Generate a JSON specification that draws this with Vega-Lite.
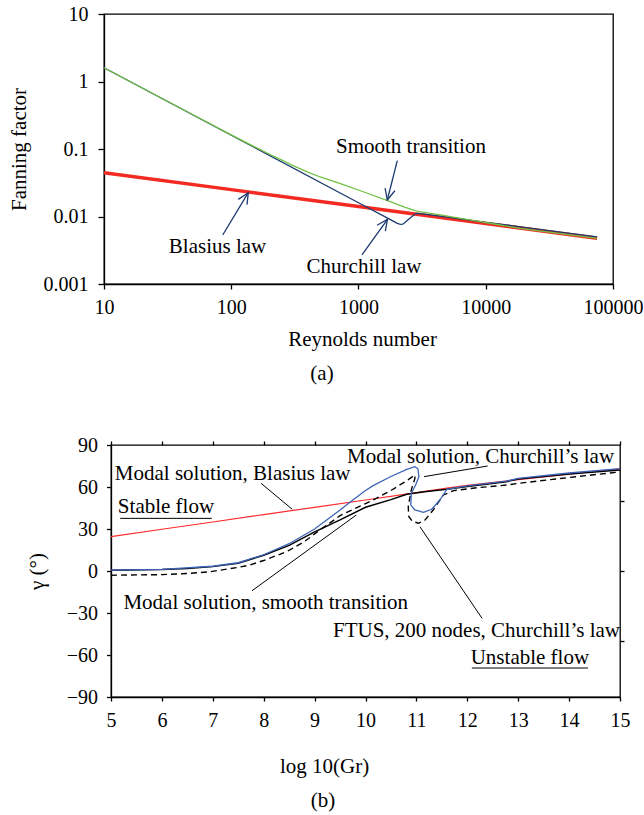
{
  "$schema": "https://vega.github.io/schema/vega-lite/v6.json",
  "autosize": {"type": "none"},
  "padding": {"left": 104, "top": 14, "right": 540, "bottom": 801},
  "background": "white",
  "config": {
    "view": {"stroke": "black", "strokeWidth": 1.3},
    "axis": {"domainColor": "black", "tickColor": "black", "labelColor": "black", "titleColor": "black", "labelFont": "Liberation Serif", "titleFont": "Liberation Serif", "labelFontSize": 20, "titleFontSize": 21, "titleFontWeight": "normal", "grid": false, "domainWidth": 1.3, "tickWidth": 1.3},
    "title": {"font": "Liberation Serif", "fontSize": 21, "fontWeight": "normal", "color": "black"},
    "text": {"font": "Liberation Serif", "fontSize": 21, "color": "black"}
  },
  "datasets": {
    "fan": [
      {"law": "Blasius", "Re": 10, "f": 0.0444},
      {"law": "Blasius", "Re": 100, "f": 0.025},
      {"law": "Blasius", "Re": 1000, "f": 0.01405},
      {"law": "Blasius", "Re": 10000, "f": 0.0079},
      {"law": "Blasius", "Re": 75000, "f": 0.00477},
      {"law": "Smooth", "Re": 10, "f": 1.6},
      {"law": "Smooth", "Re": 20, "f": 0.8},
      {"law": "Smooth", "Re": 50, "f": 0.322},
      {"law": "Smooth", "Re": 100, "f": 0.1616},
      {"law": "Smooth", "Re": 150, "f": 0.1095},
      {"law": "Smooth", "Re": 200, "f": 0.0835},
      {"law": "Smooth", "Re": 250, "f": 0.0683},
      {"law": "Smooth", "Re": 300, "f": 0.0578},
      {"law": "Smooth", "Re": 400, "f": 0.0455},
      {"law": "Smooth", "Re": 500, "f": 0.0385},
      {"law": "Smooth", "Re": 760, "f": 0.0296},
      {"law": "Smooth", "Re": 1160, "f": 0.0223},
      {"law": "Smooth", "Re": 1714, "f": 0.017},
      {"law": "Smooth", "Re": 2300, "f": 0.0138},
      {"law": "Smooth", "Re": 2864, "f": 0.01205},
      {"law": "Smooth", "Re": 4500, "f": 0.01046},
      {"law": "Smooth", "Re": 7080, "f": 0.00907},
      {"law": "Smooth", "Re": 12000, "f": 0.00768},
      {"law": "Smooth", "Re": 18600, "f": 0.00668},
      {"law": "Smooth", "Re": 40000, "f": 0.00554},
      {"law": "Smooth", "Re": 75000, "f": 0.00475},
      {"law": "Churchill", "Re": 10, "f": 1.6},
      {"law": "Churchill", "Re": 100, "f": 0.16},
      {"law": "Churchill", "Re": 1000, "f": 0.016},
      {"law": "Churchill", "Re": 1767, "f": 0.00905},
      {"law": "Churchill", "Re": 2000, "f": 0.008},
      {"law": "Churchill", "Re": 2100, "f": 0.0077},
      {"law": "Churchill", "Re": 2184, "f": 0.00765},
      {"law": "Churchill", "Re": 2260, "f": 0.0078},
      {"law": "Churchill", "Re": 2480, "f": 0.0091},
      {"law": "Churchill", "Re": 2780, "f": 0.0109},
      {"law": "Churchill", "Re": 2900, "f": 0.0111},
      {"law": "Churchill", "Re": 3200, "f": 0.0109},
      {"law": "Churchill", "Re": 5000, "f": 0.0098},
      {"law": "Churchill", "Re": 10000, "f": 0.0082},
      {"law": "Churchill", "Re": 20000, "f": 0.0069},
      {"law": "Churchill", "Re": 40000, "f": 0.0058},
      {"law": "Churchill", "Re": 75000, "f": 0.005}
    ],
    "arrows": [
      {"seg": "a1s", "i": 0, "Re": 2018, "f": 0.0671},
      {"seg": "a1s", "i": 1, "Re": 1684, "f": 0.01756},
      {"seg": "a1h", "i": 0, "Re": 1932, "f": 0.0241},
      {"seg": "a1h", "i": 1, "Re": 1684, "f": 0.01756},
      {"seg": "a1h", "i": 2, "Re": 1618, "f": 0.02626},
      {"seg": "a2s", "i": 0, "Re": 85.7, "f": 0.00532},
      {"seg": "a2s", "i": 1, "Re": 136.1, "f": 0.02252},
      {"seg": "a2h", "i": 0, "Re": 113.6, "f": 0.01792},
      {"seg": "a2h", "i": 1, "Re": 136.1, "f": 0.02252},
      {"seg": "a2h", "i": 2, "Re": 133, "f": 0.01501},
      {"seg": "a3s", "i": 0, "Re": 1065, "f": 0.00269},
      {"seg": "a3s", "i": 1, "Re": 1690, "f": 0.00909},
      {"seg": "a3h", "i": 0, "Re": 1400, "f": 0.00743},
      {"seg": "a3h", "i": 1, "Re": 1690, "f": 0.00909},
      {"seg": "a3h", "i": 2, "Re": 1624, "f": 0.00608}
    ],
    "tlab": [
      {"t": "Smooth transition", "Re": 2585, "f": 0.0873},
      {"t": "Blasius law", "Re": 78, "f": 0.00291},
      {"t": "Churchill law", "Re": 1105, "f": 0.00144}
    ],
    "gam": [
      {"s": "red", "i": 0, "x": 5, "y": 24.5},
      {"s": "red", "i": 1, "x": 6, "y": 29.8},
      {"s": "red", "i": 2, "x": 7, "y": 35},
      {"s": "red", "i": 3, "x": 8, "y": 40.3},
      {"s": "red", "i": 4, "x": 9, "y": 45.5},
      {"s": "red", "i": 5, "x": 10, "y": 50.7},
      {"s": "red", "i": 6, "x": 11, "y": 56},
      {"s": "red", "i": 7, "x": 11.6, "y": 59.3},
      {"s": "red", "i": 8, "x": 12, "y": 61.2},
      {"s": "red", "i": 9, "x": 13, "y": 65.3},
      {"s": "red", "i": 10, "x": 14, "y": 69.2},
      {"s": "red", "i": 11, "x": 15, "y": 73},
      {"s": "black", "i": 0, "x": 5, "y": 0.5},
      {"s": "black", "i": 1, "x": 6, "y": 1.0},
      {"s": "black", "i": 2, "x": 6.5, "y": 1.8},
      {"s": "black", "i": 3, "x": 7, "y": 3.2},
      {"s": "black", "i": 4, "x": 7.5, "y": 5.6},
      {"s": "black", "i": 5, "x": 8, "y": 11.3},
      {"s": "black", "i": 6, "x": 8.5, "y": 18.3},
      {"s": "black", "i": 7, "x": 9, "y": 28},
      {"s": "black", "i": 8, "x": 9.5, "y": 36.5},
      {"s": "black", "i": 9, "x": 10, "y": 45.5},
      {"s": "black", "i": 10, "x": 10.5, "y": 51},
      {"s": "black", "i": 11, "x": 10.81, "y": 54.8},
      {"s": "black", "i": 12, "x": 11.2, "y": 56.8},
      {"s": "black", "i": 13, "x": 11.6, "y": 58.4},
      {"s": "black", "i": 14, "x": 12, "y": 60.3},
      {"s": "black", "i": 15, "x": 12.77, "y": 63.8},
      {"s": "black", "i": 16, "x": 13, "y": 65.7},
      {"s": "black", "i": 17, "x": 14, "y": 69.3},
      {"s": "black", "i": 18, "x": 15, "y": 72.1},
      {"s": "blue", "i": 0, "x": 5, "y": 0.6},
      {"s": "blue", "i": 1, "x": 6, "y": 1.1},
      {"s": "blue", "i": 2, "x": 7, "y": 3.4},
      {"s": "blue", "i": 3, "x": 7.5, "y": 5.9},
      {"s": "blue", "i": 4, "x": 8, "y": 11.6},
      {"s": "blue", "i": 5, "x": 8.5, "y": 19.5},
      {"s": "blue", "i": 6, "x": 9, "y": 30},
      {"s": "blue", "i": 7, "x": 9.5, "y": 43.5},
      {"s": "blue", "i": 8, "x": 9.7, "y": 49.3},
      {"s": "blue", "i": 9, "x": 10, "y": 57.5},
      {"s": "blue", "i": 10, "x": 10.15, "y": 61},
      {"s": "blue", "i": 11, "x": 10.5, "y": 67.5},
      {"s": "blue", "i": 12, "x": 10.81, "y": 72.6},
      {"s": "blue", "i": 13, "x": 10.97, "y": 74.5},
      {"s": "blue", "i": 14, "x": 11.03, "y": 73},
      {"s": "blue", "i": 15, "x": 11.05, "y": 67.4},
      {"s": "blue", "i": 16, "x": 10.98, "y": 61},
      {"s": "blue", "i": 17, "x": 10.9, "y": 55.5},
      {"s": "blue", "i": 18, "x": 10.89, "y": 47.1},
      {"s": "blue", "i": 19, "x": 10.97, "y": 43.6},
      {"s": "blue", "i": 20, "x": 11.14, "y": 41.9},
      {"s": "blue", "i": 21, "x": 11.3, "y": 44.1},
      {"s": "blue", "i": 22, "x": 11.46, "y": 50.7},
      {"s": "blue", "i": 23, "x": 11.6, "y": 58.4},
      {"s": "blue", "i": 24, "x": 12, "y": 60.8},
      {"s": "blue", "i": 25, "x": 12.77, "y": 64.2},
      {"s": "blue", "i": 26, "x": 13, "y": 66.2},
      {"s": "blue", "i": 27, "x": 14, "y": 70},
      {"s": "blue", "i": 28, "x": 15, "y": 73.1},
      {"s": "dash", "i": 0, "x": 5, "y": -3},
      {"s": "dash", "i": 1, "x": 6, "y": -2.6},
      {"s": "dash", "i": 2, "x": 6.5, "y": -1.8},
      {"s": "dash", "i": 3, "x": 6.95, "y": -0.5},
      {"s": "dash", "i": 4, "x": 7.5, "y": 2.6},
      {"s": "dash", "i": 5, "x": 7.73, "y": 4.3},
      {"s": "dash", "i": 6, "x": 8, "y": 7.5},
      {"s": "dash", "i": 7, "x": 8.45, "y": 13.8},
      {"s": "dash", "i": 8, "x": 8.8, "y": 21},
      {"s": "dash", "i": 9, "x": 9, "y": 26.5},
      {"s": "dash", "i": 10, "x": 9.5, "y": 39.5},
      {"s": "dash", "i": 11, "x": 10, "y": 48.2},
      {"s": "dash", "i": 12, "x": 10.15, "y": 50.7},
      {"s": "dash", "i": 13, "x": 10.5, "y": 57.5},
      {"s": "dash", "i": 14, "x": 10.81, "y": 64.5},
      {"s": "dash", "i": 15, "x": 10.97, "y": 68.6},
      {"s": "dash", "i": 16, "x": 10.97, "y": 66},
      {"s": "dash", "i": 17, "x": 10.9, "y": 58},
      {"s": "dash", "i": 18, "x": 10.84, "y": 46},
      {"s": "dash", "i": 19, "x": 10.85, "y": 39},
      {"s": "dash", "i": 20, "x": 10.92, "y": 35.5},
      {"s": "dash", "i": 21, "x": 11.04, "y": 34.1},
      {"s": "dash", "i": 22, "x": 11.17, "y": 36.4},
      {"s": "dash", "i": 23, "x": 11.33, "y": 43.6},
      {"s": "dash", "i": 24, "x": 11.53, "y": 54.3},
      {"s": "dash", "i": 25, "x": 11.73, "y": 57.4},
      {"s": "dash", "i": 26, "x": 12.2, "y": 59.5},
      {"s": "dash", "i": 27, "x": 12.77, "y": 61.4},
      {"s": "dash", "i": 28, "x": 13, "y": 62.6},
      {"s": "dash", "i": 29, "x": 14, "y": 66.8},
      {"s": "dash", "i": 30, "x": 15, "y": 70.8}
    ],
    "lead": [
      {"x": 7.95, "y": 62.6, "x2": 8.56, "y2": 44.1},
      {"x": 11.15, "y": 67.4, "x2": 12.4, "y2": 75},
      {"x": 7.77, "y": -14.1, "x2": 9.82, "y2": 40},
      {"x": 11.07, "y": 31.6, "x2": 12.29, "y2": -33.8},
      {"x": 5.18, "y": 37.6, "x2": 6.98, "y2": 37.6},
      {"x": 12.09, "y": -69.3, "x2": 14.37, "y2": -69.3}
    ],
    "blab": [
      {"t": "Modal solution, Blasius law", "x": 7.39, "y": 65.0},
      {"t": "Modal solution, Churchill’s law", "x": 12.26, "y": 76.9},
      {"t": "Stable flow", "x": 6.08, "y": 41.2},
      {"t": "Modal solution, smooth transition", "x": 8.04, "y": -27.4},
      {"t": "FTUS, 200 nodes, Churchill’s law", "x": 12.18, "y": -46.9},
      {"t": "Unstable flow", "x": 13.23, "y": -66.4}
    ]
  },
  "spacing": 161,
  "bounds": "flush",
  "vconcat": [
    {
      "width": 509,
      "height": 270,
      "title": {"text": "(a)", "orient": "bottom", "frame": "group", "anchor": "middle", "dx": -36.5, "offset": 14},
      "encoding": {
        "x": {"field": "Re", "type": "quantitative", "scale": {"type": "log", "domain": [10, 100000], "nice": false},
          "axis": {"values": [10, 100, 1000, 10000, 100000], "format": "d", "tickSize": 5, "labelPadding": 8, "labelFlush": false, "labelOverlap": false, "title": "Reynolds number", "titleX": 258, "titleY": 61, "titleBaseline": "alphabetic"}},
        "y": {"field": "f", "type": "quantitative", "scale": {"type": "log", "domain": [0.001, 10], "nice": false},
          "axis": {"values": [0.001, 0.01, 0.1, 1, 10], "format": "~g", "tickSize": 6, "labelPadding": 10, "labelOverlap": false, "title": "Fanning factor", "titleX": -85, "titleY": 135, "titleBaseline": "middle"}}
      },
      "layer": [
        {"data": {"name": "fan"}, "transform": [{"filter": "datum.law === 'Blasius'"}], "mark": {"type": "line", "color": "#f22a22", "strokeWidth": 3.5}},
        {"data": {"name": "fan"}, "transform": [{"filter": "datum.law === 'Churchill'"}], "mark": {"type": "line", "color": "#1b3a70", "strokeWidth": 1.3}},
        {"data": {"name": "fan"}, "transform": [{"filter": "datum.law === 'Smooth'"}], "mark": {"type": "line", "color": "#72c144", "strokeWidth": 1.3}},
        {"data": {"name": "arrows"}, "mark": {"type": "line", "color": "#1b3a70", "strokeWidth": 1.3}, "encoding": {"detail": {"field": "seg"}, "order": {"field": "i"}}},
        {"data": {"name": "tlab"}, "mark": {"type": "text", "align": "center", "baseline": "alphabetic", "fontSize": 21, "font": "Liberation Serif", "color": "black"}, "encoding": {"text": {"field": "t"}}}
      ]
    },
    {
      "hconcat": [
        {"width": 7, "height": 252, "data": {"values": []}, "mark": "point", "view": {"stroke": null}},
        {
          "width": 509,
          "height": 252,
          "title": {"text": "(b)", "orient": "bottom", "frame": "group", "anchor": "middle", "dx": -42.5, "offset": 14},
          "resolve": {"axis": {"x": "independent", "y": "independent"}},
          "layer": [
            {"data": {"name": "gam"}, "transform": [{"filter": "datum.s === 'red'"}], "mark": {"type": "line", "color": "#ff2a2a", "strokeWidth": 1.2},
              "encoding": {
                "x": {"field": "x", "type": "quantitative", "scale": {"domain": [5, 15], "nice": false, "zero": false},
                  "axis": {"orient": "bottom", "values": [5, 6, 7, 8, 9, 10, 11, 12, 13, 14, 15], "format": "d", "tickSize": 4, "labelPadding": 9, "labelFlush": false, "labelOverlap": false, "title": "log 10(Gr)", "titleX": 213, "titleY": 75, "titleBaseline": "alphabetic"}},
                "y": {"field": "y", "type": "quantitative", "scale": {"domain": [-90, 90], "nice": false, "zero": false},
                  "axis": {"orient": "left", "values": [-90, -60, -30, 0, 30, 60, 90], "format": "d", "tickSize": 4.5, "labelPadding": 9, "labelOverlap": false, "title": "γ (°)", "titleX": -74, "titleY": 126, "titleBaseline": "middle"}},
                "order": {"field": "i"}
              }},
            {"data": {"name": "gam"}, "transform": [{"filter": "datum.s === 'dash'"}], "mark": {"type": "line", "color": "black", "strokeWidth": 1.4, "strokeDash": [6, 4]},
              "encoding": {
                "x": {"field": "x", "type": "quantitative", "scale": {"domain": [5, 15], "nice": false, "zero": false},
                  "axis": {"orient": "top", "values": [5, 6, 7, 8, 9, 10, 11, 12, 13, 14, 15], "labels": false, "domain": false, "tickSize": 4, "title": null}},
                "y": {"field": "y", "type": "quantitative", "scale": {"domain": [-90, 90], "nice": false, "zero": false},
                  "axis": {"orient": "right", "values": [-50, 0, 50], "labels": false, "domain": false, "tickSize": 4, "title": null}},
                "order": {"field": "i"}
              }},
            {"data": {"name": "gam"}, "transform": [{"filter": "datum.s === 'black'"}], "mark": {"type": "line", "color": "black", "strokeWidth": 1.5},
              "encoding": {
                "x": {"field": "x", "type": "quantitative", "axis": null},
                "y": {"field": "y", "type": "quantitative", "axis": null},
                "order": {"field": "i"}
              }},
            {"data": {"name": "gam"}, "transform": [{"filter": "datum.s === 'blue'"}], "mark": {"type": "line", "color": "#3d63b8", "strokeWidth": 1.3},
              "encoding": {
                "x": {"field": "x", "type": "quantitative", "axis": null},
                "y": {"field": "y", "type": "quantitative", "axis": null},
                "order": {"field": "i"}
              }},
            {"data": {"name": "lead"}, "mark": {"type": "rule", "color": "black", "strokeWidth": 1},
              "encoding": {
                "x": {"field": "x", "type": "quantitative", "axis": null},
                "y": {"field": "y", "type": "quantitative", "axis": null},
                "x2": {"field": "x2"},
                "y2": {"field": "y2"}
              }},
            {"data": {"name": "blab"}, "mark": {"type": "text", "align": "center", "baseline": "alphabetic", "fontSize": 21, "font": "Liberation Serif", "color": "black"},
              "encoding": {
                "x": {"field": "x", "type": "quantitative", "axis": null},
                "y": {"field": "y", "type": "quantitative", "axis": null},
                "text": {"field": "t"}
              }}
          ]
        }
      ],
      "spacing": 0,
      "bounds": "flush"
    }
  ]
}
